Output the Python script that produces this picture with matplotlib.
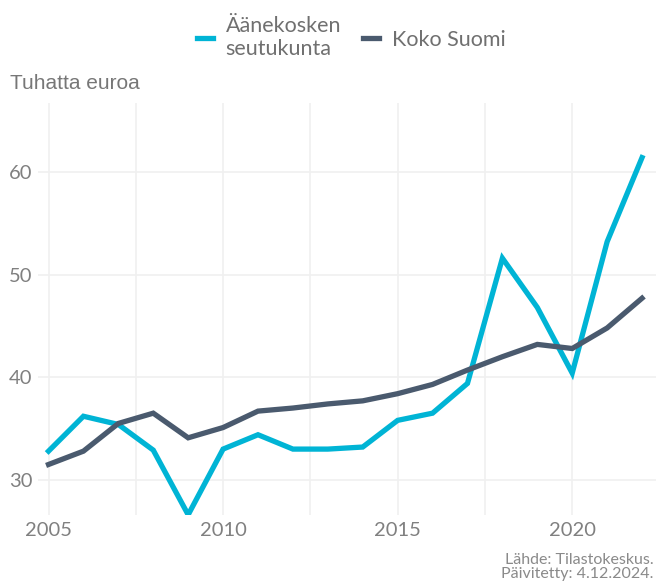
import numpy as np
import matplotlib.pyplot as plt
from matplotlib.ticker import MultipleLocator

# Tiedot
vuodet = list(range(2005, 2023))
aanekoski = [32.8, 36.2, 35.4, 32.9, 26.6, 33.0, 34.4, 33.0, 33.0, 33.2,
             35.8, 36.5, 39.4, 51.6, 46.8, 40.4, 53.2, 61.4]
koko_suomi = [31.5, 32.8, 35.5, 36.5, 34.1, 35.1, 36.7, 37.0, 37.4, 37.7,
              38.4, 39.3, 40.7, 42.0, 43.2, 42.8, 44.8, 47.7]
sarjat = ["Äänekosken\nseutukunta", "Koko Suomi"]
varit = ["#00b4d5", "#4a5a6e"]

plt.rcParams['font.family'] = ['Lato', 'DejaVu Sans']

fig = plt.figure(figsize=(6.56, 5.83), dpi=100)
ax = fig.add_axes([0.058, 0.117, 0.942, 0.706])

ax.plot(vuodet, aanekoski, color=varit[0], lw=3.8, label=sarjat[0],
        solid_joinstyle='miter')
ax.plot(vuodet, koko_suomi, color=varit[1], lw=3.8, label=sarjat[1],
        solid_joinstyle='miter')

ax.set_xlim(2004.7, 2022.4)
ax.set_ylim(26.6, 66.7)
ax.xaxis.set_major_locator(MultipleLocator(5))
ax.xaxis.set_minor_locator(MultipleLocator(2.5))
ax.yaxis.set_major_locator(MultipleLocator(10))
ax.grid(which='both', color='#f0f0f0', lw=1.2)
ax.set_axisbelow(True)
for s in ax.spines.values():
    s.set_visible(False)
ax.tick_params(which='both', length=0, labelsize=14.5, colors='#808080', pad=5)
ax.tick_params(axis='y', pad=4)

fig.text(0.015, 0.857, "Tuhatta euroa", fontsize=15, color='#777777',
         family=['Liberation Sans', 'DejaVu Sans'], va='center')

fig.legend(loc='center', bbox_to_anchor=(0.535, 0.935), ncol=2, frameon=False,
           fontsize=15.5, handlelength=0.75, handletextpad=0.6, columnspacing=1.0,
           labelcolor='#707070')

fig.text(0.996, 0.004, "Lähde: Tilastokeskus.\nPäivitetty: 4.12.2024.",
         ha='right', va='bottom', fontsize=11.5, color='#8a8a8a', linespacing=0.95)

fig.savefig("out.png", dpi=100)
